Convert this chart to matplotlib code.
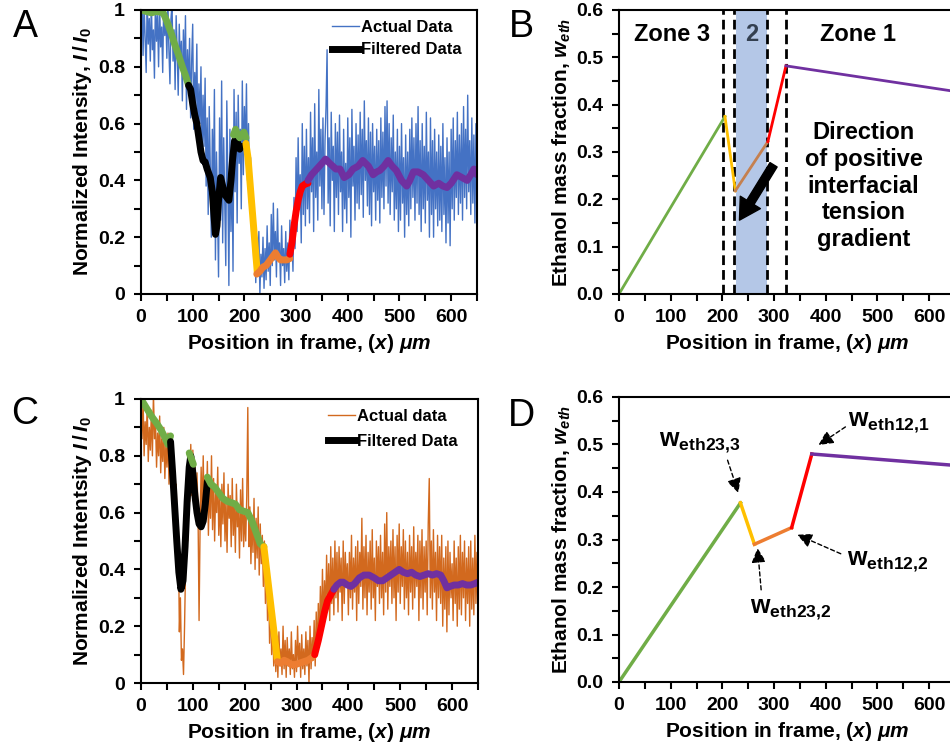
import matplotlib
matplotlib.use('Agg')
import matplotlib.pyplot as plt
import numpy as np
from matplotlib.ticker import MultipleLocator, FuncFormatter

plt.rcParams['font.family'] = ['Liberation Sans', 'DejaVu Sans']
plt.rcParams['font.weight'] = 'bold'
plt.rcParams['axes.labelweight'] = 'bold'
plt.rcParams['mathtext.fontset'] = 'custom'
plt.rcParams['mathtext.rm'] = 'Liberation Sans:bold'
plt.rcParams['mathtext.it'] = 'Liberation Sans:italic:bold'
plt.rcParams['mathtext.bf'] = 'Liberation Sans:bold'

# ---------------- panel A : raw intensity (sampled every 2 um)
a_step = 2
a_raw = [0.95, 1.05, 0.84, 1.02, 0.90, 0.78, 1.04, 0.88, 0.97, 0.82,
         1.03, 0.86, 0.93, 0.76, 1.05, 0.89, 0.98, 0.80, 1.02, 0.87,
         0.94, 0.78, 1.04, 0.91, 0.99, 0.83, 1.03, 0.86, 0.74, 0.97,
         1.02, 0.82, 0.93, 0.72, 0.98, 0.85, 0.70, 0.95, 0.80, 0.89,
         0.68, 0.93, 0.76, 0.98, 0.65, 0.86, 0.72, 0.90, 0.62, 0.82,
         0.95, 0.58, 0.78, 0.66, 0.88, 0.52, 0.74, 0.60, 0.80, 0.46,
         0.70, 0.52, 0.76, 0.38, 0.62, 0.28, 0.66, 0.45, 0.20, 0.58,
         0.35, 0.72, 0.12, 0.50, 0.30, 0.06, 0.62, 0.26, 0.75, 0.18,
         0.55, 0.32, 0.10, 0.68, 0.40, 0.03, 0.58, 0.22, 0.48, 0.08,
         0.72, 0.36, 0.64, 0.25, 0.70, 0.46, 0.58, 0.30, 0.75, 0.42,
         0.66, 0.50, 0.74, 0.40, 0.60, 0.32, 0.48, 0.22, 0.35, 0.12,
         0.25, 0.04, 0.18, 0.08, 0.22, 0.00, 0.14, 0.06, 0.20, 0.02,
         0.16, 0.05, 0.24, 0.08, 0.18, 0.03, 0.28, 0.10, 0.32, 0.12,
         0.22, 0.06, 0.30, 0.12, 0.18, 0.03, 0.24, 0.10, 0.16, 0.04,
         0.22, 0.08, 0.18, 0.05, 0.26, 0.12, 0.20, 0.08, 0.34, 0.16,
         0.48, 0.22, 0.55, 0.30, 0.42, 0.18, 0.60, 0.28, 0.52, 0.24,
         0.58, 0.30, 0.48, 0.25, 0.64, 0.36, 0.55, 0.22, 0.67, 0.34,
         0.50, 0.26, 0.72, 0.38, 0.58, 0.30, 0.62, 0.28, 0.54, 0.66,
         0.86, 0.32, 0.55, 0.24, 0.64, 0.40, 0.52, 0.22, 0.60, 0.34,
         0.57, 0.28, 0.63, 0.36, 0.50, 0.22, 0.58, 0.30, 0.46, 0.25,
         0.62, 0.34, 0.55, 0.20, 0.65, 0.38, 0.52, 0.26, 0.60, 0.32,
         0.56, 0.30, 0.64, 0.35, 0.58, 0.27, 0.68, 0.40, 0.54, 0.31,
         0.62, 0.28, 0.57, 0.24, 0.60, 0.36, 0.52, 0.26, 0.58, 0.33,
         0.54, 0.25, 0.62, 0.34, 0.57, 0.30, 0.66, 0.38, 0.68, 0.32,
         0.60, 0.28, 0.55, 0.36, 0.63, 0.26, 0.50, 0.30, 0.58, 0.22,
         0.52, 0.26, 0.60, 0.32, 0.48, 0.20, 0.56, 0.28, 0.50, 0.24,
         0.58, 0.30, 0.62, 0.34, 0.55, 0.26, 0.60, 0.32, 0.66, 0.28,
         0.54, 0.22, 0.60, 0.30, 0.52, 0.25, 0.64, 0.33, 0.50, 0.20,
         0.62, 0.28, 0.54, 0.20, 0.58, 0.30, 0.50, 0.24, 0.56, 0.26,
         0.52, 0.22, 0.60, 0.28, 0.48, 0.18, 0.55, 0.25, 0.50, 0.17,
         0.58, 0.30, 0.62, 0.26, 0.54, 0.34, 0.64, 0.28, 0.56, 0.32,
         0.60, 0.26, 0.66, 0.34, 0.58, 0.30, 0.70, 0.36, 0.54, 0.28,
         0.62, 0.32, 0.56, 0.25, 0.60, 0.34]

# filtered segments, panel A
a_green1_x = [0, 10, 20, 30, 43, 50, 59, 65, 72, 80, 86, 92]
a_green1_y = [1.0, 0.995, 0.99, 0.995, 0.99, 0.96, 0.915, 0.88, 0.845, 0.80, 0.77, 0.735]
a_black_x = [92, 96, 100, 104, 108, 112, 116, 120, 124, 128, 134, 138, 141, 144, 147,
             150, 154, 158, 162, 166, 170, 174, 177, 181, 185, 188, 191, 194]
a_black_y = [0.735, 0.72, 0.67, 0.63, 0.60, 0.55, 0.50, 0.47, 0.465, 0.44, 0.41, 0.36, 0.28,
             0.21, 0.24, 0.33, 0.41, 0.38, 0.35, 0.34, 0.33, 0.40, 0.47, 0.54, 0.55, 0.52,
             0.51, 0.52]
a_green2_x = [179, 183, 187, 191, 195, 199, 203]
a_green2_y = [0.56, 0.58, 0.56, 0.55, 0.56, 0.57, 0.55]
a_yellow_x = [203, 207, 225]
a_yellow_y = [0.53, 0.48, 0.075]
a_orange_x = [224, 230, 236, 242, 248, 254, 260, 265, 270, 276, 282, 288]
a_orange_y = [0.07, 0.08, 0.095, 0.10, 0.115, 0.13, 0.145, 0.13, 0.12, 0.12, 0.12, 0.125]
a_red_x = [288, 292, 296, 300, 304, 308, 312, 316, 320, 323]
a_red_y = [0.14, 0.18, 0.24, 0.29, 0.33, 0.36, 0.38, 0.385, 0.39, 0.39]
a_purple_x = [323, 330, 340, 350, 357, 365, 377, 385, 393, 402, 410, 420, 429, 440, 449,
              456, 462, 470, 478, 486, 494, 504, 514, 520, 527, 536, 546, 556, 566, 576,
              584, 592, 600, 611, 621, 631, 638, 644, 650]
a_purple_y = [0.40, 0.42, 0.44, 0.46, 0.475, 0.46, 0.44, 0.44, 0.41, 0.42, 0.44, 0.45, 0.47,
              0.45, 0.42, 0.43, 0.435, 0.45, 0.47, 0.45, 0.435, 0.40, 0.38, 0.40, 0.43, 0.43,
              0.42, 0.40, 0.38, 0.39, 0.38, 0.375, 0.39, 0.42, 0.41, 0.40, 0.42, 0.44, 0.42]

# ---------------- panel C : raw intensity (sampled every 2 um)
c_step = 2
c_raw = [0.95, 0.86, 1.00, 0.80, 0.92, 0.84, 0.98, 0.78, 0.90, 0.82,
         0.96, 0.80, 1.02, 0.86, 0.92, 0.76, 0.88, 0.80, 0.94, 0.74,
         0.86, 0.78, 0.90, 0.72, 0.84, 0.76, 0.88, 0.70, 0.82, 0.74,
         0.85, 0.64, 0.78, 0.60, 0.70, 0.40, 0.55, 0.18, 0.30, 0.08,
         0.12, 0.03, 0.20, 0.42, 0.62, 0.50, 0.72, 0.64, 0.84, 0.66,
         0.82, 0.62, 0.78, 0.58, 0.74, 0.60, 0.22, 0.56, 0.76, 0.60,
         0.80, 0.56, 0.72, 0.62, 0.78, 0.52, 0.70, 0.58, 0.80, 0.54,
         0.72, 0.50, 0.68, 0.60, 0.76, 0.52, 0.66, 0.48, 0.70, 0.56,
         0.74, 0.50, 0.64, 0.46, 0.70, 0.58, 0.66, 0.48, 0.72, 0.52,
         0.64, 0.46, 0.70, 0.55, 0.62, 0.44, 0.68, 0.50, 0.72, 0.48,
         0.60, 0.50, 0.66, 0.97, 0.48, 0.62, 0.42, 0.58, 0.46, 0.65,
         0.40, 0.58, 0.44, 0.62, 0.38, 0.56, 0.42, 0.52, 0.34, 0.50,
         0.28, 0.46, 0.22, 0.38, 0.14, 0.30, 0.10, 0.22, 0.06, 0.16,
         0.04, 0.14, 0.02, 0.18, 0.06, 0.12, 0.03, 0.20, 0.05, 0.15,
         0.02, 0.16, 0.06, 0.12, 0.03, 0.18, 0.05, 0.10, 0.02, 0.15,
         0.04, 0.20, 0.06, 0.14, 0.02, 0.17, 0.05, 0.12, 0.03, 0.18,
         0.06, 0.15, 0.00, 0.20, 0.05, 0.16, 0.08, 0.22, 0.06, 0.25,
         0.10, 0.28, 0.14, 0.34, 0.18, 0.40, 0.20, 0.36, 0.24, 0.45,
         0.26, 0.42, 0.22, 0.48, 0.28, 0.44, 0.24, 0.50, 0.30, 0.46,
         0.25, 0.48, 0.32, 0.44, 0.22, 0.50, 0.28, 0.46, 0.34, 0.42,
         0.24, 0.46, 0.30, 0.52, 0.26, 0.44, 0.32, 0.48, 0.22, 0.50,
         0.28, 0.46, 0.34, 0.58, 0.26, 0.48, 0.30, 0.52, 0.24, 0.46,
         0.32, 0.50, 0.26, 0.54, 0.30, 0.44, 0.22, 0.50, 0.34, 0.48,
         0.28, 0.52, 0.30, 0.46, 0.24, 0.56, 0.32, 0.60, 0.26, 0.48,
         0.34, 0.50, 0.28, 0.54, 0.30, 0.48, 0.22, 0.52, 0.32, 0.56,
         0.28, 0.48, 0.34, 0.54, 0.26, 0.50, 0.30, 0.46, 0.24, 0.52,
         0.32, 0.48, 0.26, 0.55, 0.30, 0.46, 0.34, 0.52, 0.22, 0.50,
         0.30, 0.54, 0.26, 0.48, 0.32, 0.50, 0.24, 0.56, 0.72, 0.30,
         0.50, 0.26, 0.54, 0.32, 0.46, 0.22, 0.52, 0.30, 0.48, 0.28,
         0.52, 0.20, 0.44, 0.26, 0.48, 0.18, 0.50, 0.24, 0.46, 0.30,
         0.42, 0.22, 0.50, 0.28, 0.44, 0.20, 0.48, 0.26, 0.52, 0.24,
         0.46, 0.30, 0.50, 0.22, 0.44, 0.28, 0.48, 0.20, 0.50, 0.26,
         0.44, 0.24, 0.52, 0.28, 0.46, 0.22]

c_green1_x = [0, 10, 20, 30, 39, 46, 52, 55, 57]
c_green1_y = [1.0, 0.97, 0.94, 0.915, 0.89, 0.865, 0.84, 0.86, 0.87]
c_black_x = [57, 61, 65, 69, 73, 77, 81, 85, 89, 93, 96, 100, 104, 108, 112, 116, 120, 124, 128]
c_black_y = [0.85, 0.74, 0.62, 0.50, 0.39, 0.33, 0.36, 0.48, 0.64, 0.76, 0.80, 0.74, 0.66,
             0.60, 0.56, 0.55, 0.57, 0.63, 0.71]
c_green2_x = [93, 97, 101]
c_green2_y = [0.81, 0.79, 0.77]
c_green3_x = [128, 135, 142, 150, 158, 166, 174, 182, 190, 198, 206, 214, 222, 230, 237]
c_green3_y = [0.725, 0.70, 0.69, 0.67, 0.65, 0.64, 0.635, 0.63, 0.61, 0.605, 0.60, 0.57,
              0.53, 0.49, 0.48]
c_yellow_x = [237, 250, 263]
c_yellow_y = [0.48, 0.28, 0.08]
c_orange_x = [263, 270, 276, 282, 290, 298, 306, 314, 322, 330, 335]
c_orange_y = [0.075, 0.07, 0.08, 0.075, 0.065, 0.065, 0.07, 0.075, 0.08, 0.09, 0.10]
c_red_x = [335, 342, 348, 354, 360, 366, 372]
c_red_y = [0.10, 0.15, 0.20, 0.25, 0.29, 0.31, 0.33]
c_purple_x = [372, 378, 385, 390, 398, 405, 412, 421, 430, 440, 450, 458, 466, 474, 482,
              490, 498, 506, 514, 522, 530, 538, 546, 554, 562, 570, 578, 584, 590, 596,
              604, 612, 620, 628, 636, 644, 650]
c_purple_y = [0.33, 0.345, 0.355, 0.355, 0.345, 0.34, 0.35, 0.37, 0.38, 0.38, 0.37, 0.36,
              0.36, 0.37, 0.38, 0.39, 0.40, 0.39, 0.385, 0.39, 0.38, 0.375, 0.38, 0.385,
              0.38, 0.385, 0.38, 0.36, 0.335, 0.34, 0.345, 0.345, 0.35, 0.345, 0.345, 0.35,
              0.355]

# ---------------- panels B and D : ethanol mass fraction
b_x = [0, 205, 225, 288, 323, 650]
b_y = [0.0, 0.375, 0.218, 0.322, 0.482, 0.428]
b_colors = ['#70AD47', '#FFC000', '#C5804F', '#FF0000', '#7030A0']
b_dashes = [202, 223, 287, 324]
b_band = [227, 287]

d_x = [0, 235, 262, 334, 373, 650]
d_y = [0.0, 0.377, 0.29, 0.325, 0.48, 0.456]
d_colors = ['#70AD47', '#FFC000', '#ED7D31', '#FF0000', '#7030A0']

GREEN = '#70AD47'
YELLOW = '#FFC000'
ORANGE = '#ED7D31'
RED = '#FF0000'
PURPLE = '#7030A0'

fig = plt.figure(figsize=(9.5, 7.5), dpi=100)
W, H = 950.0, 750.0
axA = fig.add_axes([141 / W, 1 - 294 / H, 336 / W, 284 / H])
axB = fig.add_axes([619 / W, 1 - 294 / H, 336 / W, 284 / H])
axC = fig.add_axes([141 / W, 1 - 683 / H, 337 / W, 284 / H])
axD = fig.add_axes([619 / W, 1 - 682 / H, 336 / W, 285 / H])

xlabel = r'Position in frame, ($x$) $\mu m$'


def style_axis(ax, ymax, ymajor, fmt):
    ax.set_xlim(0, 650)
    ax.set_ylim(0, ymax)
    ax.xaxis.set_major_locator(MultipleLocator(100))
    ax.xaxis.set_minor_locator(MultipleLocator(50))
    ax.yaxis.set_major_locator(MultipleLocator(ymajor))
    ax.yaxis.set_minor_locator(MultipleLocator(ymajor / 2))
    ax.yaxis.set_major_formatter(FuncFormatter(fmt))
    ax.tick_params(which='both', direction='out', length=5, width=1.5, labelsize=14)
    ax.tick_params(axis='x', pad=6)
    ax.tick_params(axis='y', pad=6.5)
    for s in ax.spines.values():
        s.set_linewidth(1.5)
    ax.set_xlabel(xlabel, fontsize=15, labelpad=4)


def thick(ax, x, y, c):
    ax.plot(x, y, color=c, lw=5, solid_capstyle='round', solid_joinstyle='round')


# ---- A
xa = np.arange(len(a_raw)) * a_step
axA.plot(xa, a_raw, color='#4472C4', lw=1, label='Actual Data')
thick(axA, a_green1_x, a_green1_y, GREEN)
thick(axA, a_black_x, a_black_y, 'black')
thick(axA, a_green2_x, a_green2_y, GREEN)
thick(axA, a_yellow_x, a_yellow_y, YELLOW)
thick(axA, a_orange_x, a_orange_y, ORANGE)
thick(axA, a_red_x, a_red_y, RED)
thick(axA, a_purple_x, a_purple_y, PURPLE)
axA.plot([], [], color='black', lw=5, label='Filtered Data')
style_axis(axA, 1, 0.2, lambda v, p: '%g' % round(v, 1))
axA.set_ylabel(r'Normalized Intensity, $I\,/\,I_0$', fontsize=15, labelpad=3)
axA.legend(loc='upper left', bbox_to_anchor=(0.568, 0.965), frameon=False, fontsize=12,
           handlelength=1.6, handletextpad=0.15, labelspacing=0.45, borderpad=0,
           borderaxespad=0)

# ---- C
xc = np.arange(len(c_raw)) * c_step
axC.plot(xc, c_raw, color='#D2691E', lw=1, label='Actual data')
thick(axC, c_green1_x, c_green1_y, GREEN)
thick(axC, c_black_x, c_black_y, 'black')
thick(axC, c_green2_x, c_green2_y, GREEN)
thick(axC, c_green3_x, c_green3_y, GREEN)
thick(axC, c_yellow_x, c_yellow_y, YELLOW)
thick(axC, c_orange_x, c_orange_y, ORANGE)
thick(axC, c_red_x, c_red_y, RED)
thick(axC, c_purple_x, c_purple_y, PURPLE)
axC.plot([], [], color='black', lw=5, label='Filtered Data')
style_axis(axC, 1, 0.2, lambda v, p: '%g' % round(v, 1))
axC.set_ylabel(r'Normalized Intentsity $I\,/\,I_0$', fontsize=15, labelpad=3)
axC.legend(loc='upper left', bbox_to_anchor=(0.555, 0.965), frameon=False, fontsize=12,
           handlelength=1.6, handletextpad=0.15, labelspacing=0.6, borderpad=0,
           borderaxespad=0)

# ---- B
axB.axvspan(b_band[0], b_band[1], color='#B4C7E7', lw=0)
for xv in b_dashes:
    axB.axvline(xv, color='black', lw=2, ls=(0, (3.5, 1.8)))
for i in range(len(b_x) - 1):
    axB.plot(b_x[i:i + 2], b_y[i:i + 2], color=b_colors[i], lw=2)
style_axis(axB, 0.6, 0.1, lambda v, p: '%.1f' % v)
axB.set_ylabel(r'Ethanol mass fraction, $w_{eth}$', fontsize=15, labelpad=2)
axB.text(103, 0.548, 'Zone 3', fontsize=17, ha='center', va='center')
axB.text(256, 0.548, '2', fontsize=17, ha='center', va='center', color='#333F50')
axB.text(462, 0.548, 'Zone 1', fontsize=17, ha='center', va='center')
axB.text(473, 0.228, 'Direction\nof positive\ninterfacial\ntension\ngradient',
         fontsize=17, ha='center', va='center', linespacing=1.2)
axB.annotate('', xy=(233, 0.156), xytext=(299, 0.273),
             arrowprops=dict(facecolor='black', edgecolor='black', width=6,
                             headwidth=17, headlength=15, shrink=0))

# ---- D
for i in range(len(d_x) - 1):
    axD.plot(d_x[i:i + 2], d_y[i:i + 2], color=d_colors[i], lw=2.5)
style_axis(axD, 0.6, 0.1, lambda v, p: '%.1f' % v)
axD.set_ylabel(r'Ethanol mass fraction, $w_{eth}$', fontsize=15, labelpad=2)

d_labels = [r'$\mathbf{w}_{\mathbf{eth23{,}3}}$', r'$\mathbf{w}_{\mathbf{eth23{,}2}}$',
            r'$\mathbf{w}_{\mathbf{eth12{,}2}}$', r'$\mathbf{w}_{\mathbf{eth12{,}1}}$']
d_text_xy = [(157, 0.503), (332, 0.152), (520, 0.253), (522, 0.545)]
d_tail_xy = [(210, 0.467), (275, 0.194), (429, 0.27), (438, 0.537)]
d_head_xy = [(231, 0.398), (268, 0.282), (345, 0.31), (386, 0.499)]
for lab, txy, tail, head in zip(d_labels, d_text_xy, d_tail_xy, d_head_xy):
    axD.text(txy[0], txy[1], lab, fontsize=18, ha='center', va='center')
    axD.annotate('', xy=head, xytext=tail,
                 arrowprops=dict(arrowstyle='-|>', color='black', lw=1, ls=(0, (3, 2)),
                                 mutation_scale=22, shrinkA=0, shrinkB=0))

# panel letters
for lab, px, py in [('A', 25, 27), ('B', 521, 27), ('C', 25, 414), ('D', 521, 416)]:
    fig.text(px / W, 1 - py / H, lab, fontsize=27, fontweight='normal',
             ha='center', va='center')

fig.savefig('out.png', dpi=100)
